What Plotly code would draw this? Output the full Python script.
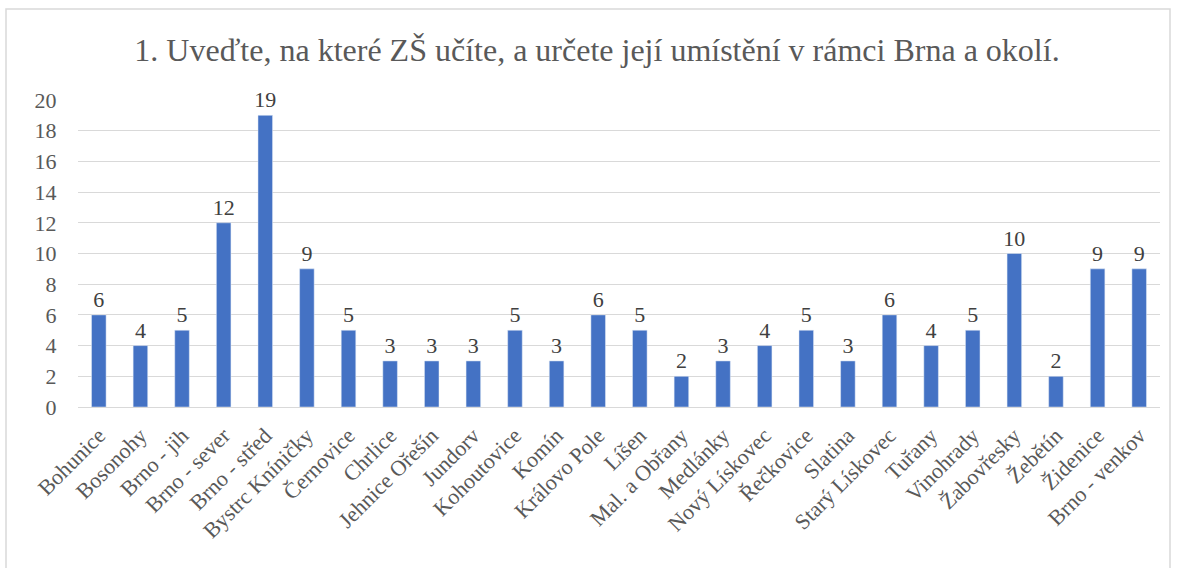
import plotly.graph_objects as go

categories = [
    "Bohunice", "Bosonohy", "Brno - jih", "Brno - sever", "Brno - střed",
    "Bystrc Kníničky", "Černovice", "Chrlice", "Jehnice Ořešín", "Jundorv",
    "Kohoutovice", "Komín", "Královo Pole", "Líšen", "Mal. a Obřany",
    "Medlánky", "Nový Lískovec", "Řečkovice", "Slatina", "Starý Lískovec",
    "Tuřany", "Vinohrady", "Žabovřesky", "Žebětín", "Židenice", "Brno - venkov",
]
counts = [6, 4, 5, 12, 19, 9, 5, 3, 3, 3, 5, 3, 6, 5, 2, 3, 4, 5, 3, 6, 4, 5, 10, 2, 9, 9]
title = "1. Uveďte, na které ZŠ učíte, a určete její umístění v rámci Brna a okolí."

FONT = "Liberation Serif"
W, H = 1177, 568
L, R, T, B = 78, 17, 100, 161
PW, PH = W - L - R, H - T - B

fig = go.Figure(
    go.Bar(
        x=categories,
        y=counts,
        text=counts,
        textposition="outside",
        constraintext="none",
        cliponaxis=False,
        textfont=dict(family=FONT, size=22, color="#404040"),
        marker=dict(color="#4472C4"),
    )
)

fig.update_layout(
    width=W,
    height=H,
    paper_bgcolor="white",
    plot_bgcolor="white",
    margin=dict(l=L, r=R, t=T, b=B, autoexpand=False),
    bargap=0.65,
    showlegend=False,
    title=dict(
        text=title,
        x=597 / W,
        xref="container",
        xanchor="center",
        y=1 - 50 / H,
        yref="container",
        yanchor="middle",
        font=dict(family=FONT, size=32, color="#595959"),
    ),
    font=dict(family=FONT, color="#595959"),
)
fig.update_xaxes(
    automargin=False,
    tickangle=-45,
    tickfont=dict(family=FONT, size=22, color="#595959"),
    ticklabelstandoff=6,
    showline=True,
    linecolor="#D9D9D9",
    linewidth=1,
    ticks="",
)
fig.update_yaxes(
    automargin=False,
    range=[0, 20],
    dtick=2,
    tickfont=dict(family=FONT, size=22, color="#595959"),
    gridcolor="#D9D9D9",
    gridwidth=1,
    zeroline=False,
    ticks="outside",
    ticklen=16,
    tickcolor="white",
)

# chart border
fig.add_shape(
    type="rect",
    xref="paper", yref="paper",
    x0=(6 - L) / PW, x1=(1170 - L) / PW,
    y0=-0.6, y1=(H - B - 9) / PH,
    line=dict(color="#D9D9D9", width=1.5),
    fillcolor="rgba(0,0,0,0)",
    layer="below",
)

fig.write_html(
    "out.html",
    config={"displayModeBar": False},
    post_script="document.body.style.margin='0px';",
)
